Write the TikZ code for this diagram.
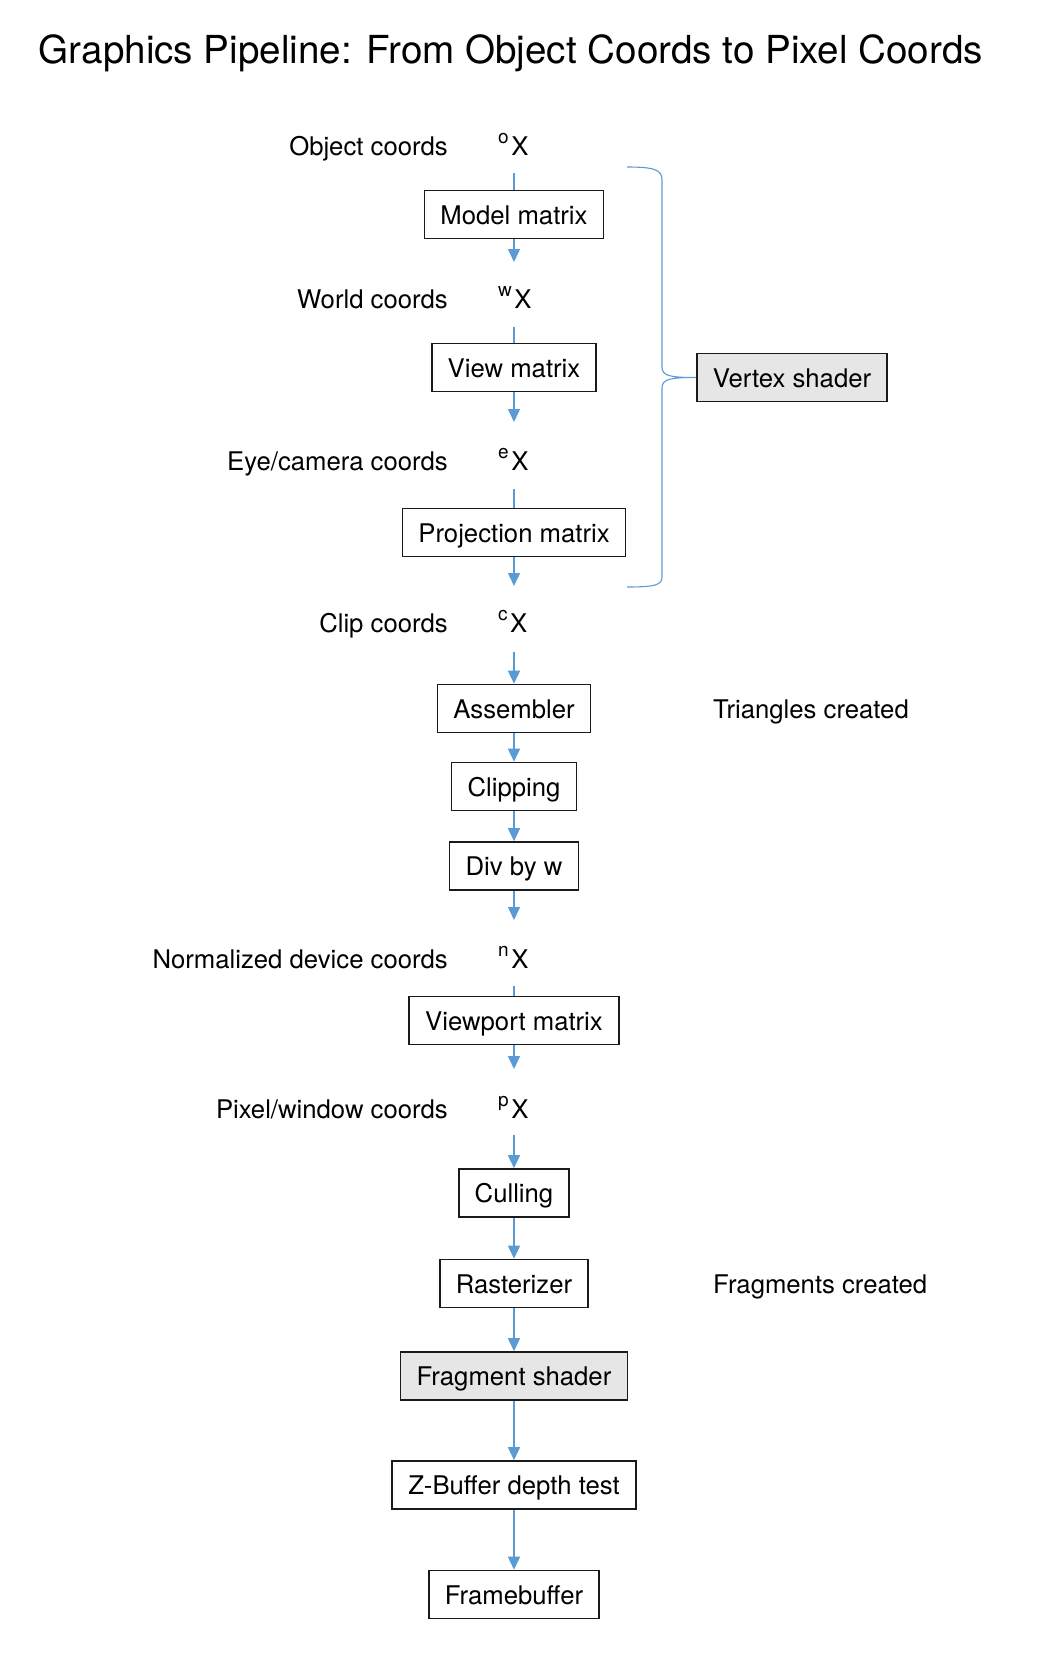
\documentclass[tikz,border=0pt]{standalone}
\usepackage{fontspec}
\setmainfont{TeX Gyre Heros}
\usetikzlibrary{arrows.meta}
\definecolor{arrowblue}{HTML}{5B9BD5}
\definecolor{boxgray}{HTML}{E6E6E6}
\definecolor{boxline}{HTML}{1A1A1A}
\newcommand{\bodyfont}{\fontsize{25.7}{30}\selectfont}
\newcommand{\titlefont}{\fontsize{38.6}{44}\selectfont}
\newcommand{\supx}[1]{\raisebox{12pt}{\fontsize{19}{19}\selectfont #1}\kern2.5pt}
\begin{document}
\begin{tikzpicture}[x=1pt,y=-1pt,
  stage/.style={draw=boxline, line width=1.6pt, fill=white, minimum height=48pt,
    inner xsep=16pt, inner ysep=0pt, text height=24pt, text depth=5pt, font=\bodyfont, text=black},
  shader/.style={stage, fill=boxgray},
  coordlabel/.style={anchor=base east, font=\bodyfont, inner sep=0pt},
  xlabel/.style={anchor=base west, font=\bodyfont, inner sep=0pt},
  note/.style={anchor=base west, font=\bodyfont, inner sep=0pt},
  flow/.style={draw=arrowblue, line width=1.5pt, -{Triangle[width=12pt,length=13pt]}},
  link/.style={draw=arrowblue, line width=1.5pt},
  bracestyle/.style={draw=arrowblue, line width=1.1pt}]
\useasboundingbox (0,0) rectangle (1037,1665);

\node[anchor=base, font=\titlefont, inner sep=0pt] (title) at (511,63) {Graphics Pipeline: From Object Coords to Pixel Coords};

% coordinate labels
\node[coordlabel] (lobj) at (448,155) {Object coords};
\node[xlabel] (xobj) at (498,155) {\supx{o}X};
\node[coordlabel] (lworld) at (448,308) {World coords};
\node[xlabel] (xworld) at (498,308) {\supx{w}X};
\node[coordlabel] (leye) at (448,470) {Eye/camera coords};
\node[xlabel] (xeye) at (498,470) {\supx{e}X};
\node[coordlabel] (lclip) at (448,632) {Clip coords};
\node[xlabel] (xclip) at (498,632) {\supx{c}X};
\node[coordlabel] (lndc) at (448,968) {Normalized device coords};
\node[xlabel] (xndc) at (498,968) {\supx{n}X};
\node[coordlabel] (lpix) at (448,1118) {Pixel/window coords};
\node[xlabel] (xpix) at (498,1118) {\supx{p}X};

% stages
\node[stage] (model) at (514,214.5) {Model matrix};
\node[stage] (view) at (514,367.5) {View matrix};
\node[stage] (proj) at (514,532.5) {Projection matrix};
\node[stage] (asm) at (514,708.5) {Assembler};
\node[stage] (clipping) at (514,786.5) {Clipping};
\node[stage] (div) at (514,866) {Div by w};
\node[stage] (vp) at (514,1020.5) {Viewport matrix};
\node[stage] (cull) at (514,1193) {Culling};
\node[stage] (rast) at (514,1283.5) {Rasterizer};
\node[shader] (frag) at (514,1376) {Fragment shader};
\node[stage] (zbuf) at (514,1485) {Z-Buffer depth test};
\node[stage] (fb) at (514,1594.5) {Framebuffer};
\node[shader] (vs) at (792,377.5) {Vertex shader};

% notes
\node[note] (tri) at (713,718) {Triangles created};
\node[note] (fragnote) at (713,1293) {Fragments created};

% connector ends
\coordinate (sobj) at (514,173);
\coordinate (tworld) at (514,262);
\coordinate (sworld) at (514,327);
\coordinate (teye) at (514,422);
\coordinate (seye) at (514,489);
\coordinate (tclip) at (514,586);
\coordinate (sclip) at (514,652);
\coordinate (tndc) at (514,920);
\coordinate (sndc) at (514,986);
\coordinate (tpix) at (514,1069);
\coordinate (spix) at (514,1135);

\draw[link] (sobj) -- (model);
\draw[flow] (model) -- (tworld);
\draw[link] (sworld) -- (view);
\draw[flow] (view) -- (teye);
\draw[link] (seye) -- (proj);
\draw[flow] (proj) -- (tclip);
\draw[flow] (sclip) -- (asm);
\draw[flow] (asm) -- (clipping);
\draw[flow] (clipping) -- (div);
\draw[flow] (div) -- (tndc);
\draw[link] (sndc) -- (vp);
\draw[flow] (vp) -- (tpix);
\draw[flow] (spix) -- (cull);
\draw[flow] (cull) -- (rast);
\draw[flow] (rast) -- (frag);
\draw[flow] (frag) -- (zbuf);
\draw[flow] (zbuf) -- (fb);

% brace
\coordinate (btop) at (627,167);
\coordinate (bbot) at (627,587);
\draw[bracestyle] (btop) .. controls (655,167) and (662,170) .. (662,180)
  -- (662,367) .. controls (662,376) and (670,377.5) .. (vs.west)
  .. controls (670,377.5) and (662,379) .. (662,388)
  -- (662,577) .. controls (662,585) and (655,587) .. (bbot);
\end{tikzpicture}
\end{document}
